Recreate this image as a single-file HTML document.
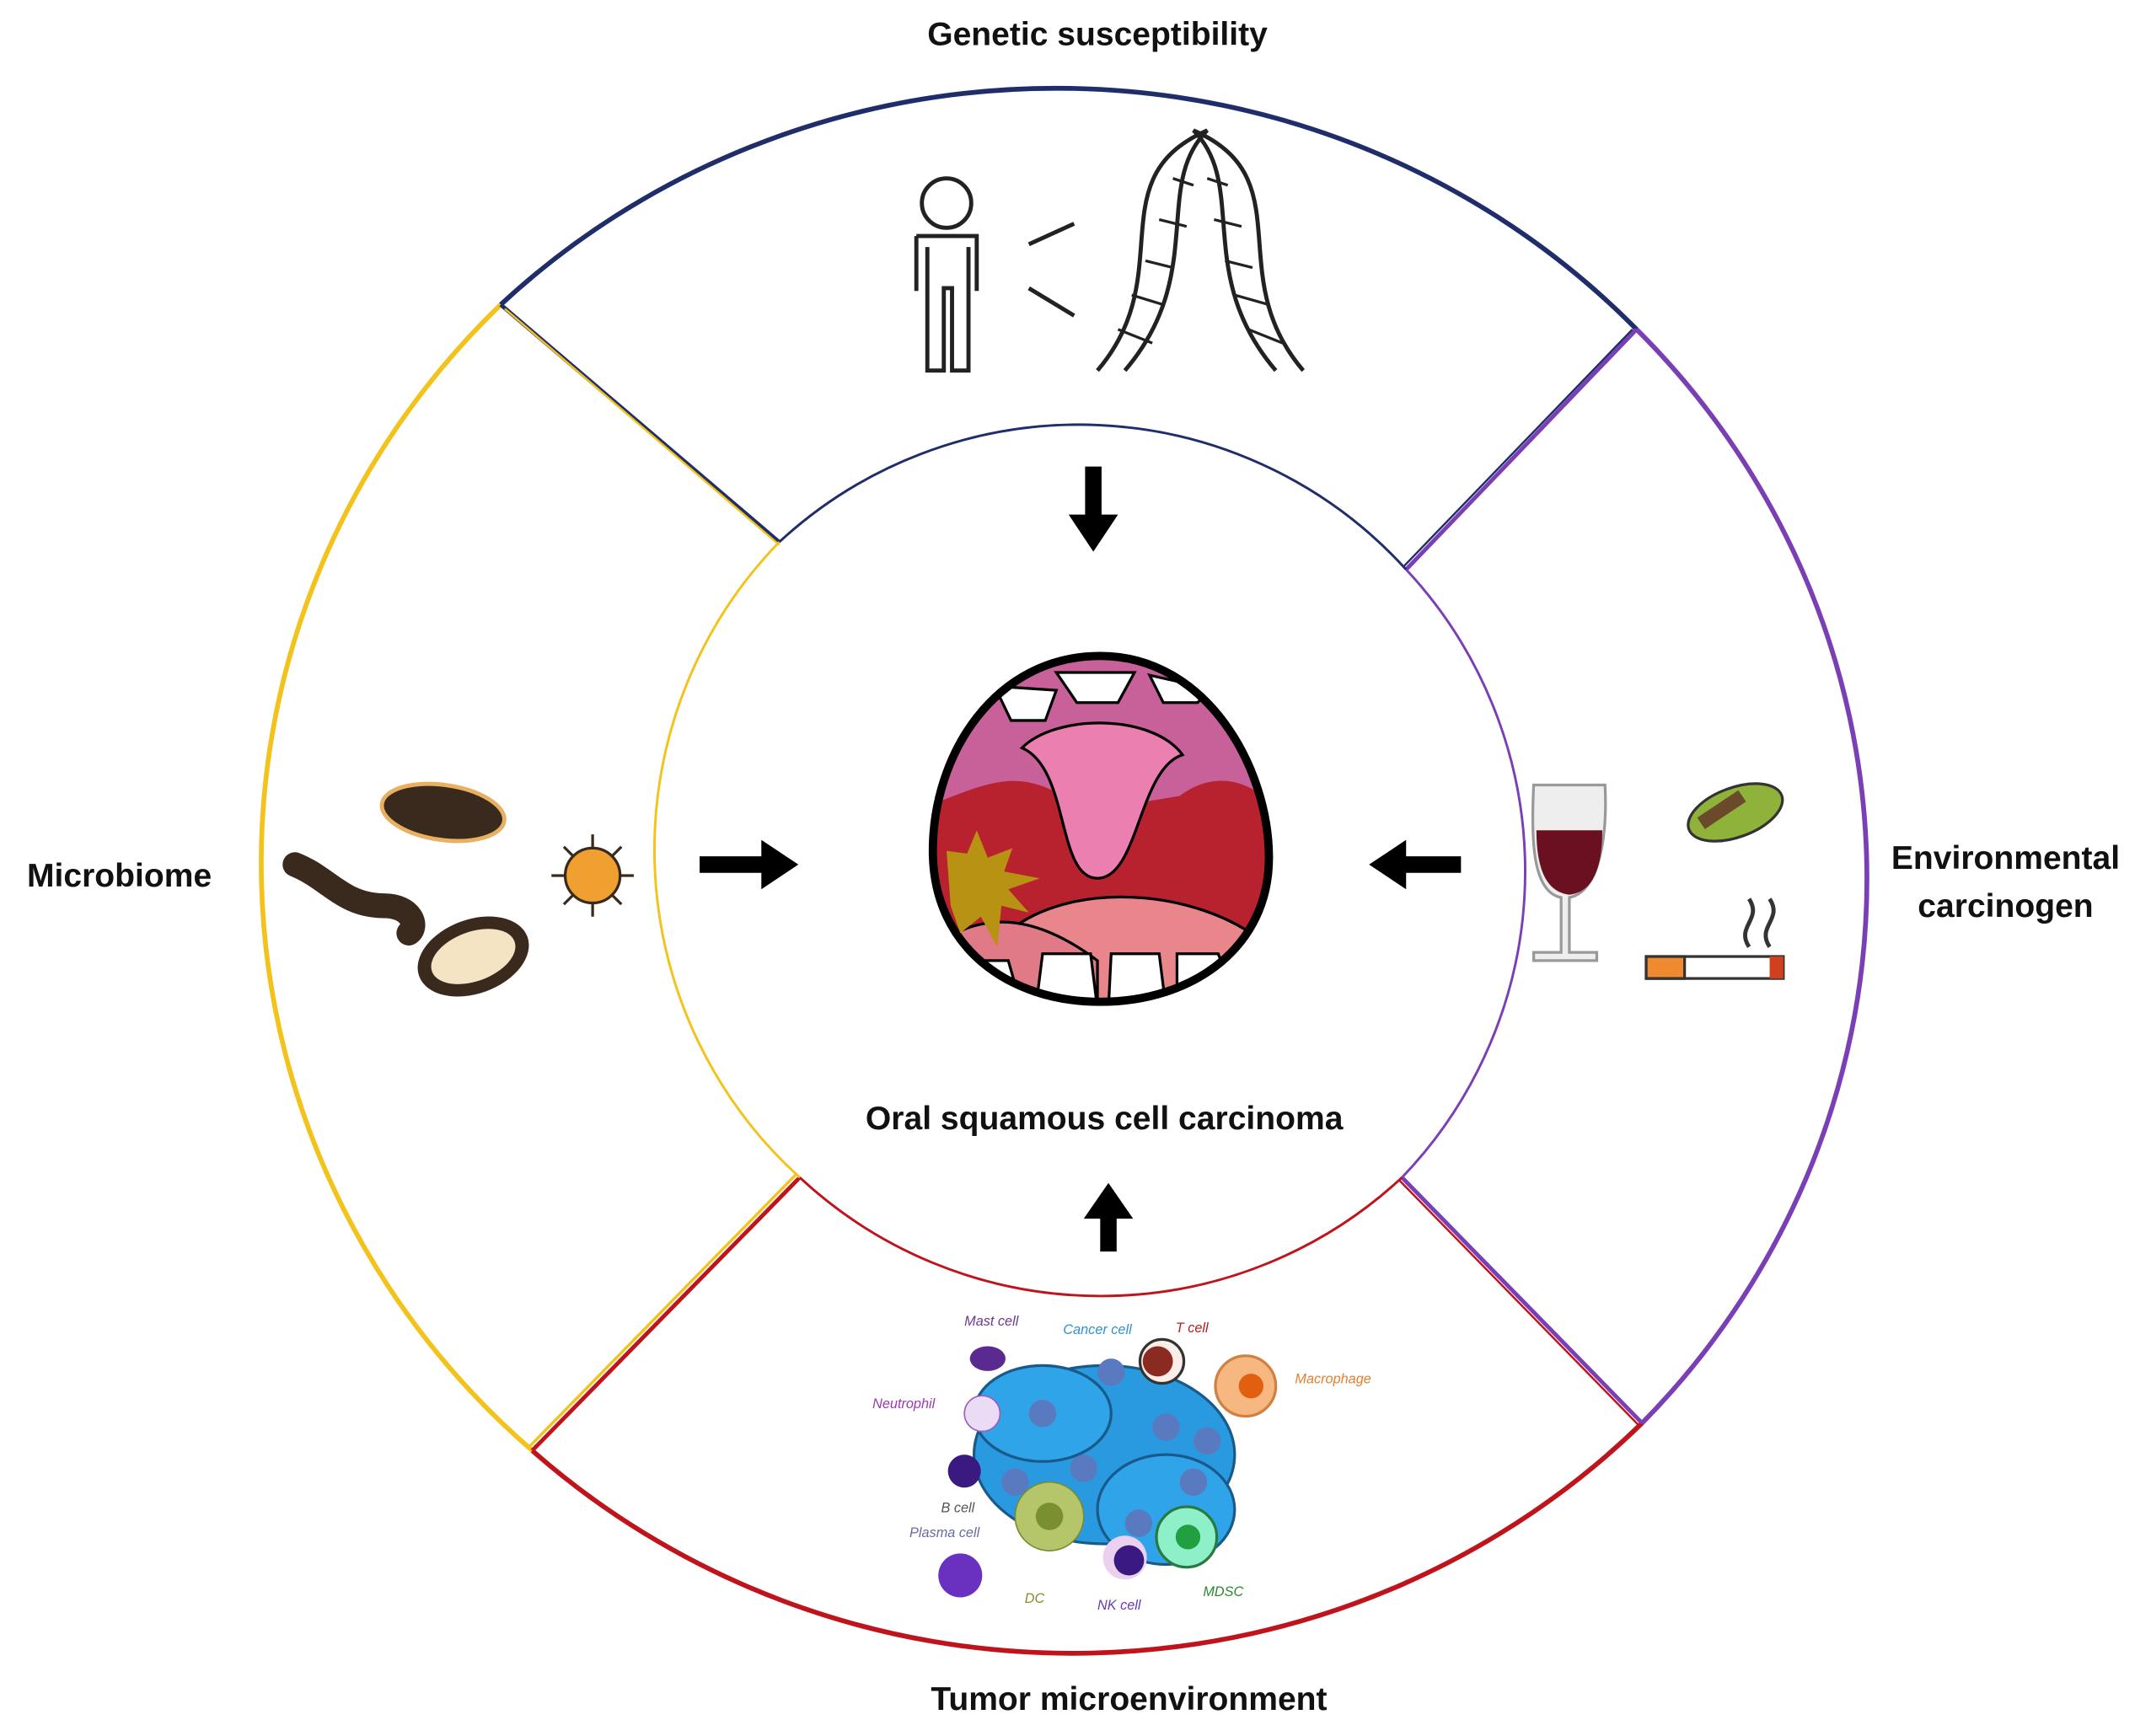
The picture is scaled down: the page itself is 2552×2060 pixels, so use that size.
<!DOCTYPE html>
<html><head><meta charset="utf-8"><style>
html,body{margin:0;padding:0;background:#fff;}
svg{display:block;}
text{font-family:"Liberation Sans",sans-serif;}
</style></head><body>
<svg width="2552" height="2060" viewBox="0 0 1568 1265" preserveAspectRatio="none" xmlns="http://www.w3.org/2000/svg">
<defs>
<clipPath id="m"><path d="M802,478 C880,478 925,560 925,625 C925,690 870,730 802,730 C735,730 680,690 680,620 C680,550 725,478 802,478Z"/></clipPath>
</defs>
<rect width="1568" height="1265" fill="#fff"/>
<!-- outer arcs -->
<path d="M365,222 A587,572 0 0 1 1193,240" fill="none" stroke="#1f2d6b" stroke-width="3.5"/>
<path d="M1193,240 A587,572 0 0 1 1197,1037" fill="none" stroke="#7b3fb5" stroke-width="3.5"/>
<path d="M1197,1037 A587,572 0 0 1 388,1057" fill="none" stroke="#c0141c" stroke-width="3.5"/>
<path d="M388,1057 A587,572 0 0 1 365,222" fill="none" stroke="#f3c21b" stroke-width="3.5"/>
<!-- dividers -->
<line x1="365" y1="222" x2="568" y2="395" stroke="#1f2d6b" stroke-width="3"/>
<line x1="368" y1="225" x2="568" y2="397" stroke="#f3c21b" stroke-width="1.5"/>
<line x1="1193" y1="240" x2="1025" y2="415" stroke="#7b3fb5" stroke-width="3"/>
<line x1="1190" y1="240" x2="1023" y2="413" stroke="#1f2d6b" stroke-width="1.5"/>
<line x1="1197" y1="1037" x2="1022" y2="858" stroke="#7b3fb5" stroke-width="3"/>
<line x1="1195" y1="1039" x2="1020" y2="860" stroke="#c0141c" stroke-width="1.5"/>
<line x1="388" y1="1057" x2="583" y2="858" stroke="#c0141c" stroke-width="3"/>
<line x1="386" y1="1054" x2="581" y2="855" stroke="#f3c21b" stroke-width="2"/>
<!-- inner arcs -->
<path d="M568,395 A322,322 0 0 1 1025,415" fill="none" stroke="#1f2d6b" stroke-width="1.8"/>
<path d="M1025,415 A322,322 0 0 1 1022,858" fill="none" stroke="#7b3fb5" stroke-width="1.8"/>
<path d="M1022,858 A322,322 0 0 1 583,858" fill="none" stroke="#c0141c" stroke-width="1.8"/>
<path d="M583,858 A322,322 0 0 1 568,395" fill="none" stroke="#f3c21b" stroke-width="1.8"/>
<!-- labels -->
<g font-weight="bold" font-size="24" fill="#111" text-anchor="middle">
<text x="800" y="33">Genetic susceptibility</text>
<text x="87" y="646">Microbiome</text>
<text x="1462" y="633">Environmental</text>
<text x="1462" y="668">carcinogen</text>
<text x="823" y="1246">Tumor microenvironment</text>
<text x="805" y="823">Oral squamous cell carcinoma</text>
</g>
<!-- arrows -->
<g fill="#000">
<polygon points="791,340 803,340 803,375 815,375 797,402 779,375 791,375"/>
<polygon points="510,624 555,624 555,612 582,630 555,648 555,636 510,636"/>
<polygon points="1065,624 1025,624 1025,612 998,630 1025,648 1025,636 1065,636"/>
<polygon points="802,912 814,912 814,888 826,888 808,862 790,888 802,888"/>
</g>
<!-- person -->
<g fill="none" stroke="#222" stroke-width="3">
<circle cx="690" cy="148" r="18"/>
<path d="M668,172 h44 v40 M668,172 v40 M676,180 v90 h12 v-60 h6 v60 h12 v-90"/>
<line x1="750" y1="178" x2="783" y2="163"/>
<line x1="750" y1="210" x2="783" y2="230"/>
<path d="M800,270 C860,200 800,130 880,95 C840,135 880,200 820,270"/>
<path d="M950,270 C890,200 950,130 870,95 C910,135 870,200 930,270"/>
</g>
<g stroke="#222" stroke-width="2">
<line x1="815" y1="240" x2="840" y2="250"/><line x1="825" y1="215" x2="848" y2="222"/><line x1="835" y1="190" x2="855" y2="195"/><line x1="845" y1="160" x2="865" y2="165"/><line x1="855" y1="130" x2="870" y2="135"/>
<line x1="910" y1="240" x2="935" y2="250"/><line x1="900" y1="215" x2="925" y2="222"/><line x1="893" y1="190" x2="913" y2="195"/><line x1="885" y1="160" x2="905" y2="165"/><line x1="880" y1="130" x2="895" y2="135"/>
</g>
<!-- microbes -->
<g>
<ellipse cx="323" cy="592" rx="45" ry="20" fill="#3a2a1e" stroke="#e8b060" stroke-width="3" transform="rotate(8 323 592)"/>
<path d="M215,630 C240,640 250,660 280,660 C300,660 305,675 298,680" fill="none" stroke="#3a2a1e" stroke-width="18" stroke-linecap="round"/>
<ellipse cx="345" cy="697" rx="42" ry="27" fill="#3a2a1e" transform="rotate(-20 345 697)"/>
<ellipse cx="345" cy="697" rx="32" ry="18" fill="#f4e4c4" transform="rotate(-20 345 697)"/>
<g stroke="#3a2a1e" stroke-width="2">
<line x1="432" y1="608" x2="432" y2="668"/><line x1="402" y1="638" x2="462" y2="638"/>
<line x1="411" y1="617" x2="453" y2="659"/><line x1="453" y1="617" x2="411" y2="659"/>
</g>
<circle cx="432" cy="638" r="20" fill="#f0a030" stroke="#3a2a1e" stroke-width="2"/>
</g>
<!-- wine and cigarette -->
<path d="M1118,572 h52 c2,40 -5,78 -26,82 v40 h20 v6 h-46 v-6 h20 v-40 c-21,-4 -22,-42 -20,-82z" fill="#eee" stroke="#999" stroke-width="2"/>
<path d="M1120,605 h48 c0,30 -8,45 -24,47 c-16,-2 -24,-17 -24,-47z" fill="#6b1020"/>
<ellipse cx="1265" cy="592" rx="36" ry="18" fill="#8fb23a" stroke="#333" stroke-width="2" transform="rotate(-20 1265 592)"/>
<path d="M1240,600 l30,-20" stroke="#6a4a2a" stroke-width="10"/>
<rect x="1200" y="697" width="100" height="16" fill="#fff" stroke="#333" stroke-width="2"/>
<rect x="1200" y="697" width="28" height="16" fill="#f08a30" stroke="#333" stroke-width="2"/>
<rect x="1290" y="697" width="10" height="16" fill="#d04020"/>
<path d="M1275,690 c-10,-15 10,-20 0,-35 M1290,690 c-10,-15 10,-20 0,-35" fill="none" stroke="#333" stroke-width="3"/>
<!-- mouth -->
<g clip-path="url(#m)">
<rect x="670" y="470" width="270" height="270" fill="#b8222e"/>
<path d="M670,470 H940 V600 C910,560 880,565 860,580 L830,585 C825,640 780,640 775,580 C740,560 720,570 670,590Z" fill="#c8609a"/>
<path d="M745,545 C770,520 840,520 862,550 C830,560 830,640 800,640 C770,640 780,560 745,545Z" fill="#ea7fb0" stroke="#000" stroke-width="2"/>
<path d="M740,675 C790,640 880,650 925,690 V740 H740Z" fill="#e8868c" stroke="#000" stroke-width="2"/>
<path d="M680,690 C720,660 760,670 800,700 V740 H680Z" fill="#e07a86" stroke="#000" stroke-width="2"/>
<g fill="#fff" stroke="#000" stroke-width="2">
<path d="M725,500 l12,25 h25 l8,-22z"/><path d="M770,490 l15,22 h30 l12,-22z"/><path d="M838,492 l10,20 h25 l10,-10z"/>
<path d="M700,730 l5,-30 h30 l10,35z"/><path d="M755,735 l5,-40 h35 l5,40z"/><path d="M808,735 l2,-40 h35 l5,40z"/><path d="M858,730 l0,-35 h30 l10,25z"/>
</g>
</g>
<path d="M802,478 C880,478 925,560 925,625 C925,690 870,730 802,730 C735,730 680,690 680,620 C680,550 725,478 802,478Z" fill="none" stroke="#000" stroke-width="6"/>
<polygon points="690,620 705,622 712,605 720,625 738,618 732,635 758,640 735,648 750,665 730,660 727,690 715,668 700,680 693,660" fill="#b89212"/>
<!-- tumor microenvironment -->
<g>
<ellipse cx="805" cy="1060" rx="95" ry="65" fill="#2a9ae0" stroke="#1a5a8a" stroke-width="2"/>
<ellipse cx="760" cy="1030" rx="50" ry="35" fill="#30a4e8" stroke="#1a5a8a" stroke-width="2"/>
<ellipse cx="850" cy="1100" rx="50" ry="40" fill="#30a4e8" stroke="#1a5a8a" stroke-width="2"/>
<g fill="#5a7ac0"><circle cx="760" cy="1030" r="10"/><circle cx="810" cy="1000" r="10"/><circle cx="850" cy="1040" r="10"/><circle cx="790" cy="1070" r="10"/><circle cx="740" cy="1080" r="10"/><circle cx="870" cy="1080" r="10"/><circle cx="830" cy="1110" r="10"/><circle cx="880" cy="1050" r="10"/></g>
<circle cx="847" cy="992" r="16" fill="#fbeee8" stroke="#333" stroke-width="2"/><circle cx="844" cy="992" r="11" fill="#8a2a20"/>
<circle cx="908" cy="1010" r="22" fill="#f6b880" stroke="#d08040" stroke-width="2"/><circle cx="912" cy="1010" r="9" fill="#e06010"/>
<ellipse cx="720" cy="990" rx="13" ry="9" fill="#5a2a90"/>
<circle cx="716" cy="1030" r="13" fill="#eadcf5" stroke="#9a5ac0"/>
<circle cx="703" cy="1072" r="12" fill="#3a1a80"/>
<circle cx="700" cy="1148" r="16" fill="#6a30c0"/>
<circle cx="765" cy="1105" r="25" fill="#b5c66a" stroke="#7a8a30"/><circle cx="765" cy="1105" r="10" fill="#7a9030"/>
<circle cx="820" cy="1135" r="16" fill="#ecd0f0"/><circle cx="823" cy="1137" r="11" fill="#3a1a80"/>
<circle cx="865" cy="1120" r="22" fill="#8ef0c8" stroke="#2a7a40" stroke-width="2"/><circle cx="866" cy="1120" r="9" fill="#20a040"/>
<g font-size="10" font-style="italic">
<text x="703" y="966" fill="#6a3a90">Mast cell</text>
<text x="775" y="972" fill="#3090d0">Cancer cell</text>
<text x="857" y="971" fill="#b02020">T cell</text>
<text x="944" y="1008" fill="#e08030">Macrophage</text>
<text x="636" y="1026" fill="#9a3ab0">Neutrophil</text>
<text x="686" y="1102" fill="#555">B cell</text>
<text x="663" y="1120" fill="#6a6aa0">Plasma cell</text>
<text x="747" y="1168" fill="#8a8a30">DC</text>
<text x="800" y="1173" fill="#6a3ab0">NK cell</text>
<text x="877" y="1163" fill="#2a8a30">MDSC</text>
</g>
</g>
</svg>
</body></html>
